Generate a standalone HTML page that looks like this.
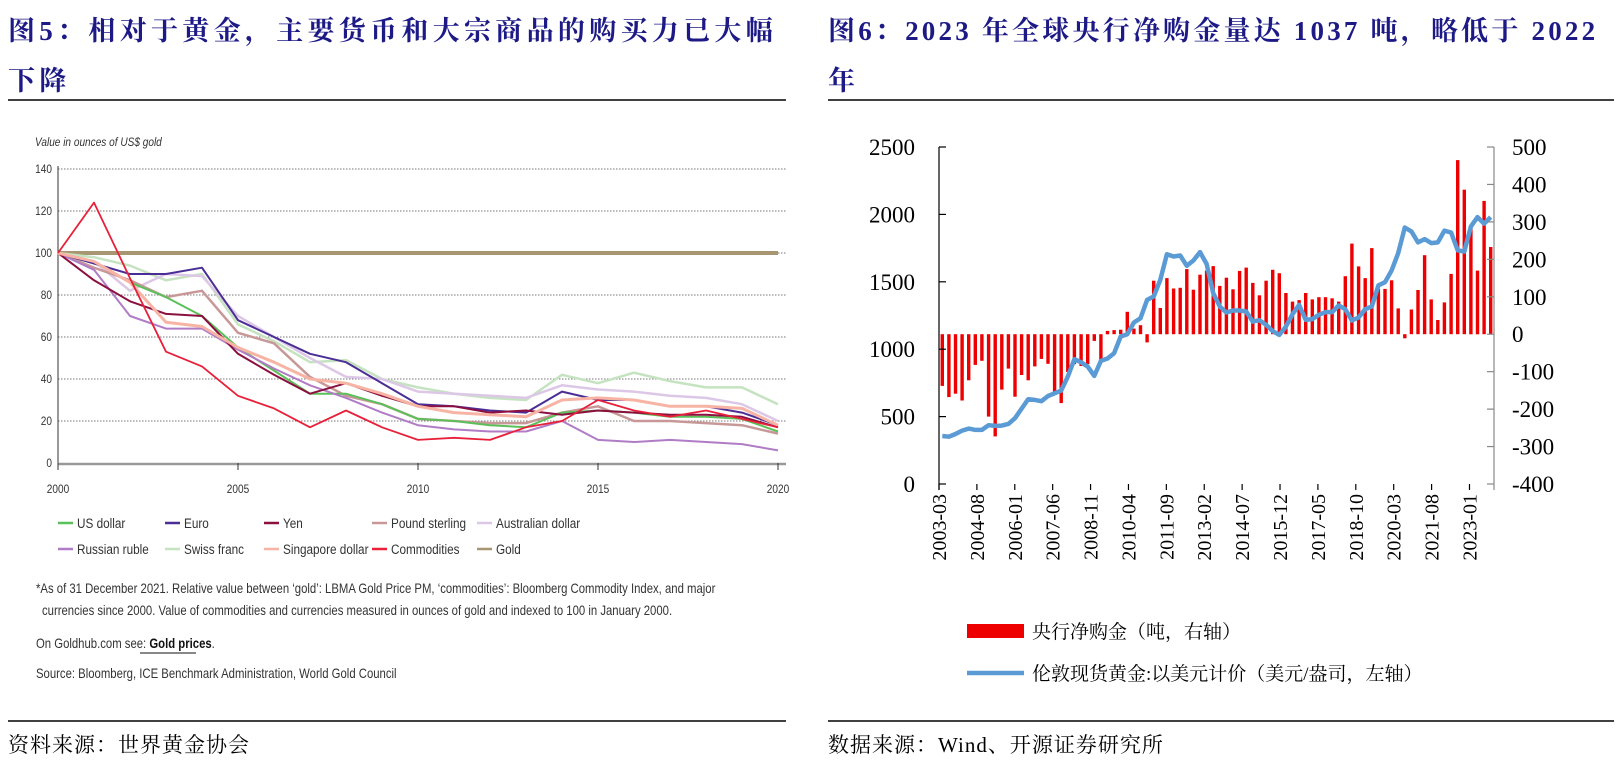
<!DOCTYPE html>
<html><head><meta charset="utf-8">
<style>
html,body{margin:0;padding:0;background:#fff;}
body{width:1622px;height:776px;position:relative;overflow:hidden;}
svg{position:absolute;left:0;top:0;}
</style></head>
<body>
<svg id="page" width="1622" height="776" viewBox="0 0 1622 776" xmlns="http://www.w3.org/2000/svg">
  <g font-family="'Liberation Serif','Noto Serif CJK SC',serif" font-weight="bold" font-size="27" fill="#1d1a86" letter-spacing="4.3">
    <text x="8" y="40">图5：相对于黄金，主要货币和大宗商品的购买力已大幅</text>
    <text x="8" y="90">下降</text>
  </g>
  <line x1="8" y1="100" x2="786" y2="100" stroke="#000" stroke-width="1.5"/>
  <g font-family="'Liberation Serif','Noto Serif CJK SC',serif" font-weight="bold" font-size="27" fill="#1d1a86" letter-spacing="3.2">
    <text x="828" y="40">图6：2023 年全球央行净购金量达 1037 吨，略低于 2022</text>
    <text x="828" y="90">年</text>
  </g>
  <line x1="828" y1="100" x2="1614" y2="100" stroke="#000" stroke-width="1.5"/>
  <line x1="8" y1="721" x2="786" y2="721" stroke="#000" stroke-width="1.5"/>
  <line x1="828" y1="721" x2="1614" y2="721" stroke="#000" stroke-width="1.5"/>
  <text x="8" y="752" font-family="'Liberation Serif','Noto Serif CJK SC',serif" font-size="21" fill="#000" letter-spacing="1">资料来源：世界黄金协会</text>
  <text x="828" y="752" font-family="'Liberation Serif','Noto Serif CJK SC',serif" font-size="21" fill="#000" letter-spacing="1">数据来源：Wind、开源证券研究所</text>

  <g id="left"></g>
  <g id="right"></g>
</svg>
<script>
// ===== Left chart data =====
const years = [2000,2001,2002,2003,2004,2005,2006,2007,2008,2009,2010,2011,2012,2013,2014,2015,2016,2017,2018,2019,2020];
const usDollar = [100,96,86,79,70,55,44,33,33,28,21,20,18,17,24,25,24,22,22,21,15];
const euro = [100,95,90,90,93,68,60,52,48,38,28,27,25,24,34,30,30,27,27,24,18];
const yen = [100,87,77,71,70,52,42,33,38,32,27,27,24,25,23,25,24,23,23,22,17];
const poundSterling = [100,93,87,79,82,62,57,41,32,28,21,20,19,19,24,27,20,20,19,18,14];
const australianDollar = [100,96,82,90,89,70,60,50,41,40,34,33,32,31,37,35,34,32,31,28,20];
const russianRuble = [100,92,70,64,64,54,45,37,31,24,18,16,15,15,20,11,10,11,10,9,6];
const swissFranc = [100,98,94,87,90,66,58,48,49,40,36,33,31,30,42,38,43,39,36,36,28];
const singaporeDollar = [100,96,86,67,65,55,48,40,38,33,27,24,23,22,30,31,30,27,27,26,18];
const commodities = [100,124,88,53,46,32,26,17,25,17,11,12,11,17,20,30,25,22,25,21,17];
const gold = [100,100,100,100,100,100,100,100,100,100,100,100,100,100,100,100,100,100,100,100,100];
const leftTicks = [0,20,40,60,80,100,120,140];
const leftXTicks = [2000,2005,2010,2015,2020];

// ===== Right chart data =====
const quarterCount = 84;
const xLabels = ["2003-03","2004-08","2006-01","2007-06","2008-11","2010-04","2011-09","2013-02","2014-07","2015-12","2017-05","2018-10","2020-03","2021-08","2023-01"];
const cbPurchases = [-138,-168,-159,-177,-123,-82,-71,-220,-273,-148,-92,-167,-109,-123,-86,-66,-79,-157,-184,-101,-80,-85,-80,-18,-67,9,11,12,60,15,24,-22,143,70,150,122,124,174,119,159,170,182,129,151,120,169,178,137,104,143,172,163,110,87,91,110,93,99,99,96,87,155,242,181,150,230,121,121,144,69,-11,66,118,211,93,38,85,161,465,386,291,170,356,233];
const goldPrice = [356,351,371,396,411,401,401,436,431,433,446,488,559,629,624,614,653,673,693,797,926,903,871,802,913,931,970,1094,1111,1198,1230,1366,1391,1515,1705,1688,1695,1619,1658,1720,1633,1416,1317,1272,1287,1287,1280,1205,1215,1181,1134,1106,1168,1260,1329,1218,1223,1255,1275,1275,1324,1297,1213,1235,1297,1317,1473,1497,1584,1713,1903,1874,1792,1817,1787,1792,1879,1866,1733,1725,1911,1980,1931,1980];
const leftAxisTicks = [0,500,1000,1500,2000,2500];
const rightAxisTicks = [-400,-300,-200,-100,0,100,200,300,400,500];

const NS = "http://www.w3.org/2000/svg";
function mk(tag, attrs, parent){const e=document.createElementNS(NS,tag);for(const k in attrs)e.setAttribute(k,attrs[k]);parent.appendChild(e);return e;}
const cond = "'Liberation Sans',sans-serif";
function ctext(parent,x,y,size,str,extra){
  const a = Object.assign({x:0,y:0,'font-family':cond,'font-size':size,fill:'#333',transform:`translate(${x},${y}) scale(0.84,1)`},extra||{});
  const t = mk('text',a,parent);
  t.textContent = str;
  return t;
}

// ---------- Left chart ----------
(function(){
  const g = document.getElementById('left');
  const X0=58, X1=778, Y0=463, Y1=169;
  const xs = y => X0 + (y-2000)/(2020-2000)*(X1-X0);
  const ys = v => Y0 - v/140*(Y0-Y1);
  const t = ctext(g,35,146,12,'Value in ounces of US$ gold',{'font-style':'italic'});
  
  
  leftTicks.forEach(v=>{
    if(v>0){
      const gl = mk('line',{x1:X0,x2:786,y1:ys(v),y2:ys(v),stroke:'#777','stroke-width':1,'stroke-dasharray':'1.5,1.5'},g);
      
      
    }
    const lb = ctext(g,52,ys(v)+4,12,String(v),{'text-anchor':'end'});
    
    
  });
  const ax = mk('line',{x1:X0,x2:X0,y1:Y1-3,y2:Y0+5,stroke:'#333','stroke-width':1},g);
  
  
  const bx = mk('line',{x1:X0,x2:786,y1:Y0+1,y2:Y0+1,stroke:'#999','stroke-width':2.5},g);
  
  
  leftXTicks.forEach(y=>{
    const tk = mk('line',{x1:xs(y),x2:xs(y),y1:Y0,y2:Y0+7,stroke:'#333','stroke-width':1},g);
    
    
    const lb = ctext(g,xs(y),Y0+30,12,String(y),{'text-anchor':'middle'});
    
    
  });
  const series = [
    ['gold',gold,'#a89572',4],
    ['swiss-franc',swissFranc,'#c5e3c0',2.5],
    ['australian-dollar',australianDollar,'#dcc8e6',2.5],
    ['pound-sterling',poundSterling,'#c89898',2.5],
    ['us-dollar',usDollar,'#5cc05a',2],
    ['russian-ruble',russianRuble,'#b07cc6',2],
    ['euro',euro,'#4b2e95',2],
    ['yen',yen,'#8b1040',2],
    ['singapore-dollar',singaporeDollar,'#f7b4a4',3],
    ['commodities',commodities,'#e8203a',1.8]
  ];
  series.forEach(([name,arr,col,w])=>{
    const d = arr.map((v,i)=>(i?'L':'M')+xs(years[i]).toFixed(1)+','+ys(v).toFixed(1)).join(' ');
    const p = mk('path',{d:d,fill:'none',stroke:col,'stroke-width':w,'stroke-linejoin':'round'},g);
    
    
  });
  const legend = [
    ['US dollar','#5cc05a',58,523],['Euro','#4b2e95',165,523],['Yen','#8b1040',264,523],['Pound sterling','#c89898',372,523],['Australian dollar','#dcc8e6',477,523],
    ['Russian ruble','#b07cc6',58,549],['Swiss franc','#c5e3c0',165,549],['Singapore dollar','#f7b4a4',264,549],['Commodities','#e8203a',372,549],['Gold','#a89572',477,549]
  ];
  legend.forEach(([lab,col,x,y])=>{
    const lg = mk('g',{},g);
    
    
    mk('line',{x1:x,x2:x+15,y1:y,y2:y,stroke:col,'stroke-width':2.5},lg);
    ctext(lg,x+19,y+5,14,lab);
  });
  const notes = [
    ["*As of 31 December 2021. Relative value between ‘gold’: LBMA Gold Price PM, ‘commodities’: Bloomberg Commodity Index, and major",36,593],
    ["currencies since 2000. Value of commodities and currencies measured in ounces of gold and indexed to 100 in January 2000.",42,615]
  ];
  notes.forEach(([s,x,y])=>{
    const n = ctext(g,x,y,13.5,s);
    
    
  });
  const gh = ctext(g,36,648,13.5,'');
  gh.innerHTML='On Goldhub.com see: <tspan font-weight="bold" fill="#111">Gold prices</tspan>.';
  
  
  const ul = mk('line',{x1:140,x2:196,y1:653,y2:653,stroke:'#111','stroke-width':1},g);
  
  
  const src = ctext(g,36,678,13.5,'Source: Bloomberg, ICE Benchmark Administration, World Gold Council');
  
  
})();

// ---------- Right chart ----------
(function(){
  const g = document.getElementById('right');
  const X0=939, X1=1494, Y0=484, Y1=147;
  const step = (X1-X0)/quarterCount;
  const xq = i => X0 + step*(i+0.5);
  const yl = v => Y0 - v/2500*(Y0-Y1);
  const yr = v => Y0 - (v+400)/900*(Y0-Y1);
  const serif = "'Liberation Serif','Noto Serif CJK SC',serif";
  cbPurchases.forEach((v,i)=>{
    const y0=yr(0), y1=yr(v);
    const r = mk('rect',{x:(xq(i)-1.7).toFixed(1),y:Math.min(y0,y1).toFixed(1),width:3.4,height:Math.abs(y1-y0).toFixed(1),fill:'#ee0000'},g);
    
    
  });
  const d = goldPrice.map((v,i)=>(i?'L':'M')+xq(i).toFixed(1)+','+yl(v).toFixed(1)).join(' ');
  const p = mk('path',{d:d,fill:'none',stroke:'#5b9bd5','stroke-width':4.5,'stroke-linejoin':'round'},g);
  
  
  const la = mk('line',{x1:X0,x2:X0,y1:Y1,y2:Y0+6,stroke:'#000','stroke-width':1.2},g);
  
  
  leftAxisTicks.forEach(v=>{
    mk('line',{x1:X0,x2:X0+7,y1:yl(v),y2:yl(v),stroke:'#000','stroke-width':1.2},g);
    const t = mk('text',{x:915,y:yl(v)+8,'text-anchor':'end','font-family':serif,'font-size':23,fill:'#000'},g);
    t.textContent=v;
    
    
  });
  const ra = mk('line',{x1:X1,x2:X1,y1:Y1,y2:Y0+6,stroke:'#888','stroke-width':1.2},g);
  
  
  rightAxisTicks.forEach(v=>{
    mk('line',{x1:X1-7,x2:X1,y1:yr(v),y2:yr(v),stroke:'#888','stroke-width':1.2},g);
    const t = mk('text',{x:1512,y:yr(v)+8,'font-family':serif,'font-size':23,fill:'#000'},g);
    t.textContent=v;
    
    
  });
  const mstep = (X1-X0)/249;
  xLabels.forEach((s,i)=>{
    const x = X0 + i*17*mstep;
    mk('line',{x1:x,x2:x,y1:Y0,y2:Y0+6,stroke:'#000','stroke-width':1.2},g);
    const t = mk('text',{x:0,y:0,'text-anchor':'end','font-family':serif,'font-size':20,fill:'#000',transform:`translate(${(x+7).toFixed(1)},${Y0+10}) rotate(-90)`},g);
    t.textContent=s;
    
    
  });
  const l1 = mk('g',{},g);
  
  
  mk('rect',{x:967,y:624,width:57,height:14,fill:'#ee0000'},l1);
  const lt1 = mk('text',{x:1032,y:638,'font-family':serif,'font-size':19,fill:'#000'},l1);
  lt1.textContent='央行净购金（吨，右轴）';
  const l2 = mk('g',{},g);
  
  
  mk('line',{x1:967,x2:1024,y1:673,y2:673,stroke:'#5b9bd5','stroke-width':4.5},l2);
  const lt2 = mk('text',{x:1032,y:680,'font-family':serif,'font-size':19,fill:'#000'},l2);
  lt2.textContent='伦敦现货黄金:以美元计价（美元/盎司，左轴）';
})();
</script>
</body></html>
